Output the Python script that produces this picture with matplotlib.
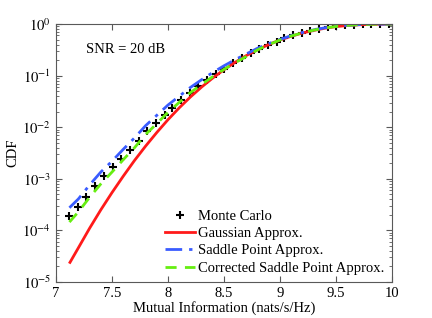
import numpy as np
import matplotlib
matplotlib.use("Agg")
import matplotlib.pyplot as plt
from matplotlib.ticker import LogLocator, FixedLocator

plt.rcParams['font.family'] = ['Liberation Serif', 'DejaVu Serif']
plt.rcParams['mathtext.fontset'] = 'stix'

# Monte Carlo points
mc_x = [7.12, 7.20, 7.27, 7.35, 7.43, 7.51, 7.58, 7.66, 7.74, 7.81, 7.89, 7.97,
        8.04, 8.12, 8.20, 8.27, 8.35, 8.43, 8.50, 8.58, 8.66, 8.74, 8.81, 8.89,
        8.97, 9.04, 9.12, 9.20, 9.27, 9.35, 9.43, 9.50, 9.58, 9.66, 9.74, 9.81,
        9.89, 9.97]
mc_cdf = [1.93e-4, 2.88e-4, 4.47e-4, 7.24e-4, 1.12e-3, 1.66e-3, 2.45e-3, 3.63e-3,
          5.50e-3, 8.32e-3, 0.0120, 0.0174, 0.0240, 0.0339, 0.0468, 0.0617,
          0.0813, 0.107, 0.135, 0.174, 0.219, 0.269, 0.324, 0.389, 0.457, 0.525,
          0.605, 0.680, 0.745, 0.805, 0.858, 0.900, 0.940, 0.965, 0.980, 0.989,
          0.994, 0.997]

# Gaussian approximation
gauss_x = [7.125, 7.2, 7.3, 7.4, 7.5, 7.6, 7.7, 7.8, 7.9, 8.0, 8.1, 8.2, 8.3, 8.4,
           8.5, 8.6, 8.7, 8.8, 8.9, 9.0, 9.1, 9.2, 9.3, 9.4, 9.5, 9.6, 9.7, 9.8,
           9.9, 10.0]
gauss_cdf = [2.4e-5, 4.6e-5, 1.1e-4, 2.5e-4, 5.4e-4, 1.12e-3, 2.25e-3, 4.3e-3,
             7.9e-3, 0.0140, 0.0237, 0.0385, 0.060, 0.090, 0.130, 0.182, 0.245,
             0.318, 0.40, 0.49, 0.58, 0.67, 0.75, 0.83, 0.89, 0.935, 0.965, 0.983,
             0.992, 0.997]

# Saddle point approximation
sp_x = [7.12, 7.2, 7.3, 7.4, 7.5, 7.6, 7.7, 7.8, 7.9, 8.0, 8.1, 8.2, 8.3, 8.4,
        8.5, 8.6, 8.7, 8.8, 8.9, 9.0, 9.1, 9.2, 9.3, 9.4, 9.5, 9.6, 9.7, 9.8,
        9.9, 10.0]
sp_cdf = [2.75e-4, 4.07e-4, 7.59e-4, 1.35e-3, 2.19e-3, 3.72e-3, 6.17e-3, 0.0107,
          0.0170, 0.0269, 0.0398, 0.0589, 0.0832, 0.115, 0.155, 0.204, 0.263,
          0.339, 0.417, 0.501, 0.595, 0.685, 0.770, 0.845, 0.900, 0.945, 0.972,
          0.986, 0.994, 0.998]

# Corrected saddle point approximation
csp_x = sp_x
csp_cdf = [1.45e-4, 2.29e-4, 4.37e-4, 7.94e-4, 1.35e-3, 2.34e-3, 3.98e-3, 7.24e-3,
           0.0117, 0.0195, 0.0302, 0.0468, 0.0676, 0.0955, 0.132, 0.178, 0.234,
           0.316, 0.398, 0.490, 0.585, 0.675, 0.760, 0.838, 0.895, 0.940, 0.970,
           0.985, 0.994, 0.998]

fig = plt.figure(figsize=(4.32, 3.18), dpi=100)
ax = fig.add_axes([0.1296, 0.1132, 0.7778, 0.8113])

ax.plot(mc_x, mc_cdf, linestyle='none', marker='+', color='black',
        markersize=6, markeredgewidth=1.5, label='Monte Carlo')
ax.plot(gauss_x, gauss_cdf, color='#ff1a1a', linewidth=2, label='Gaussian Approx.')
ax.plot(sp_x, sp_cdf, color='#3a5cff', linewidth=2, linestyle='-.',
        dashes=(6, 2.5, 1.2, 2.5), label='Saddle Point Approx.')
ax.plot(csp_x, csp_cdf, color='#66ee11', linewidth=2, linestyle='--',
        dashes=(4, 3), label='Corrected Saddle Point Approx.')

ax.set_yscale('log')
ax.set_xlim(7, 10)
ax.set_ylim(1e-5, 1)
ax.set_xticks([7, 7.5, 8, 8.5, 9, 9.5, 10])
ax.set_xticklabels(['7', '7.5', '8', '8.5', '9', '9.5', '10'])
ax.yaxis.set_major_locator(FixedLocator([1e-5, 1e-4, 1e-3, 1e-2, 1e-1, 1]))
ax.yaxis.set_minor_locator(LogLocator(base=10, subs=np.arange(2, 10), numticks=20))
ax.set_yticklabels([r'$10^{-5}$', r'$10^{-4}$', r'$10^{-3}$', r'$10^{-2}$',
                    r'$10^{-1}$', r'$10^{0}$'])

ax.tick_params(which='both', direction='in', top=True, right=True,
               labelsize=10.5, colors='0.35', labelcolor='black')
ax.tick_params(which='major', length=4)
ax.tick_params(which='minor', length=2)
for sp in ax.spines.values():
    sp.set_color('0.35')
    sp.set_linewidth(0.8)

ax.set_xlabel('Mutual Information (nats/s/Hz)', fontsize=10.5, labelpad=1)
ax.set_ylabel('CDF', fontsize=10.5, labelpad=2)

ax.text(7.27, 10**-0.5, 'SNR = 20 dB', fontsize=10.5, ha='left', va='center')

ax.legend(loc='lower right', frameon=False, fontsize=10.5, handlelength=2.1,
          handletextpad=0.2, labelspacing=0.28, borderaxespad=0.1,
          bbox_to_anchor=(1.0, 0.0))

fig.savefig('out.png', dpi=100)
